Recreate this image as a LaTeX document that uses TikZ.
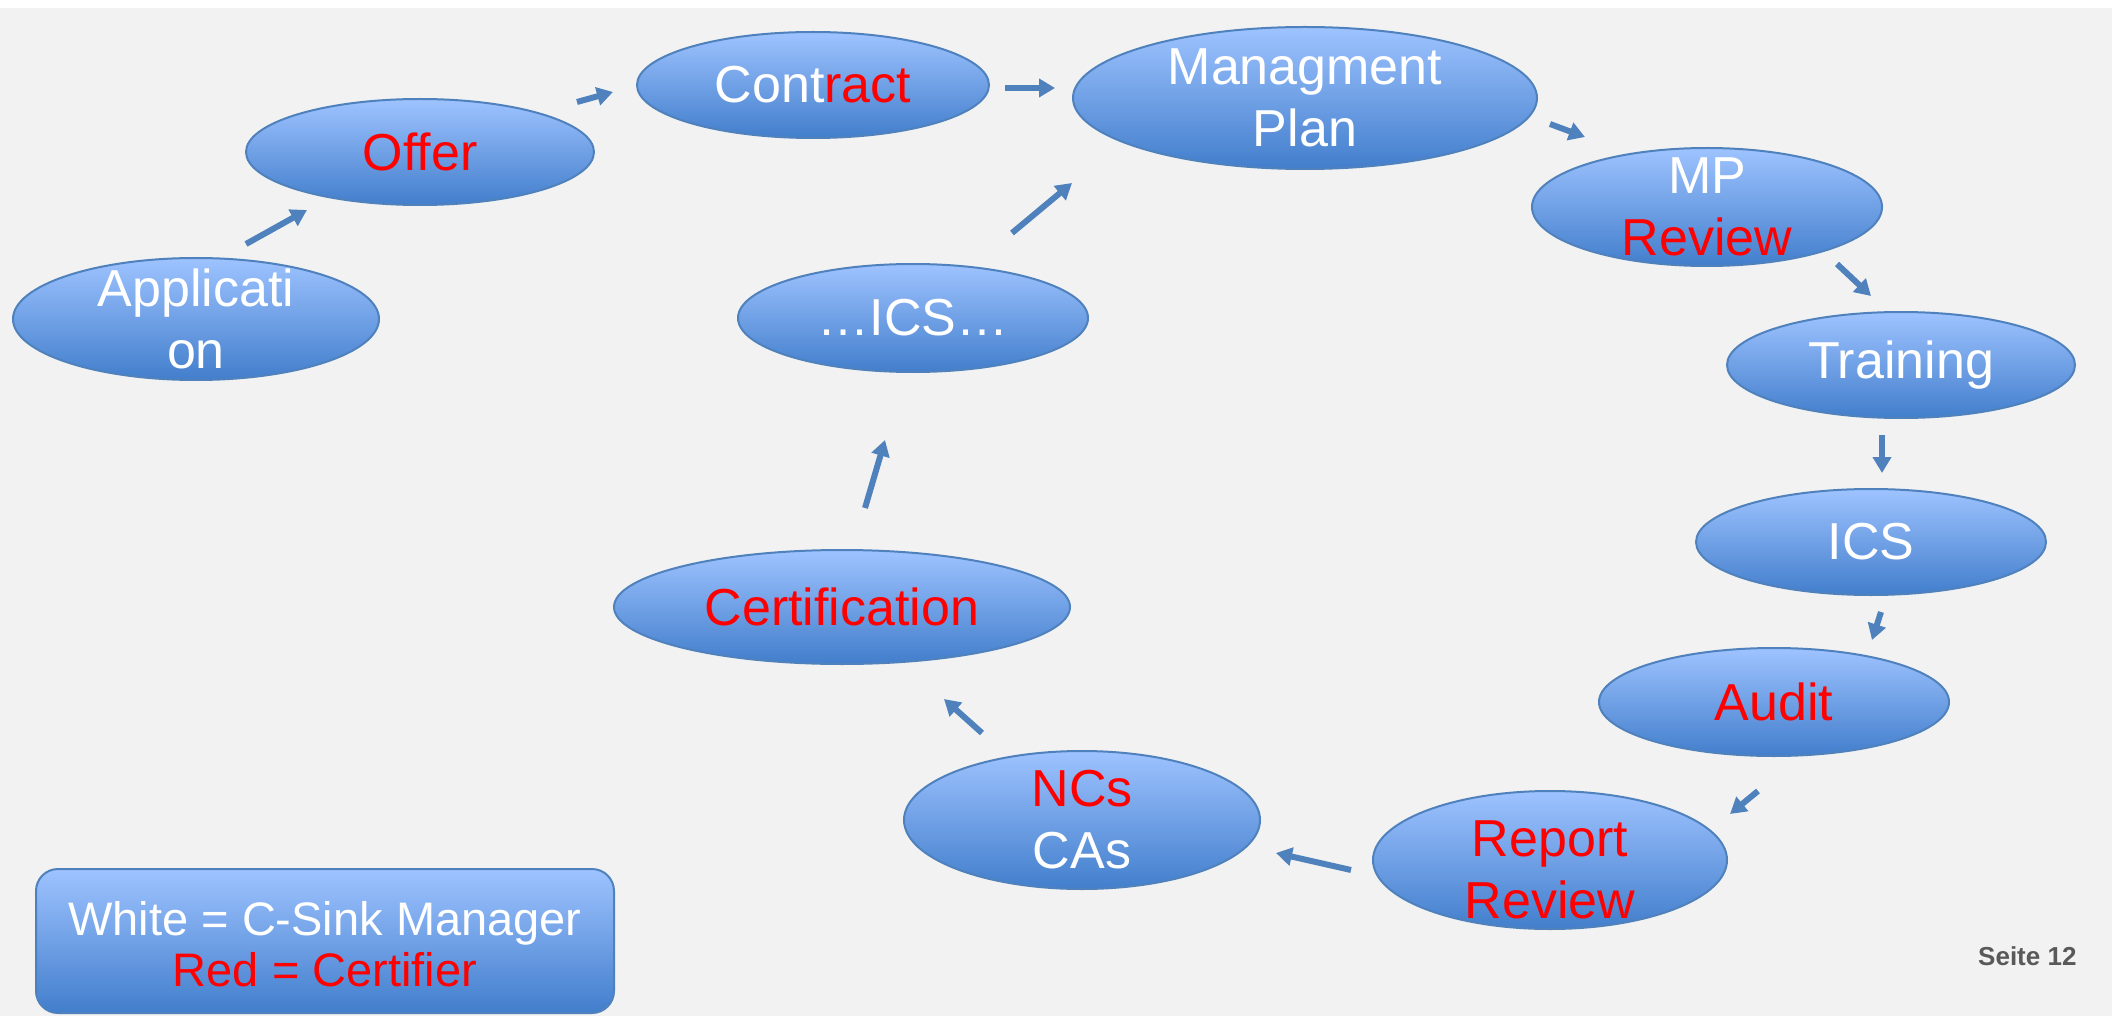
\documentclass[tikz,border=0pt]{standalone}
\usepackage{fontspec}
\setmainfont{Liberation Sans}
\usetikzlibrary{shapes.geometric,arrows.meta}

\definecolor{hgrau}{HTML}{F2F2F2}
\definecolor{blauoben}{RGB}{158,195,255}
\definecolor{blauunten}{RGB}{66,126,204}
\definecolor{blaurand}{RGB}{79,129,189}
\definecolor{seitegrau}{RGB}{89,89,89}

\tikzset{
  blase/.style={ellipse, draw=blaurand, line width=2pt, top color=blauoben,
    bottom color=blauunten, inner sep=0pt},
  pfeil/.style={draw=blaurand, line width=6pt, -{Triangle[width=18pt,length=16pt]}},
  weiss/.style={text=white, font=\fontsize{52}{62}\selectfont, align=center},
  rottext/.style={weiss, text=red}
}

\begin{document}
\begin{tikzpicture}[x=1pt,y=-1pt]
  \useasboundingbox (0,0) rectangle (2112,1016);

  % Hintergrund
  \fill[white] (0,0) rectangle (2112,1016);
  \fill[hgrau] (0,8) rectangle (2112,1016);

  % Ellipsen
  \node[blase, minimum width=366pt, minimum height=122pt] (app) at (196,319) {};
  \node[blase, minimum width=348pt, minimum height=106pt] (offer) at (420,152) {};
  \node[blase, minimum width=352pt, minimum height=106pt] (contract) at (813,85) {};
  \node[blase, minimum width=464pt, minimum height=142pt] (plan) at (1305,98) {};
  \node[blase, minimum width=350pt, minimum height=118pt] (mprev) at (1707,207) {};
  \node[blase, minimum width=348pt, minimum height=106pt] (training) at (1901,365) {};
  \node[blase, minimum width=350pt, minimum height=106pt] (ics) at (1871,542) {};
  \node[blase, minimum width=350pt, minimum height=108pt] (audit) at (1774,702) {};
  \node[blase, minimum width=354pt, minimum height=138pt] (report) at (1550,860) {};
  \node[blase, minimum width=356pt, minimum height=138pt] (ncs) at (1082,820) {};
  \node[blase, minimum width=456pt, minimum height=114pt] (cert) at (842,607) {};
  \node[blase, minimum width=350pt, minimum height=108pt] (icsloop) at (913,318) {};

  % Beschriftungen
  \node[weiss] (app-t) at (app) {Applicati\\on};
  \node[rottext] (offer-t) at (offer) {Offer};
  \node[weiss] (contract-t) at (contract) {Cont\textcolor{red}{ract}};
  \node[weiss] (plan-t) at (plan) {Managment\\Plan};
  \node[weiss] (mprev-t) at (mprev) {MP\\\textcolor{red}{Review}};
  \node[weiss] (training-t) at (training) {Training};
  \node[weiss] (ics-t) at (ics) {ICS};
  \node[rottext] (audit-t) at (audit) {Audit};
  \node[rottext] (report-t) at (1550,870) {Report\\Review};
  \node[weiss] (ncs-t) at (ncs) {\textcolor{red}{NCs}\\CAs};
  \node[rottext] (cert-t) at (cert) {Certification};
  \node[weiss] (icsloop-t) at (icsloop) {\dots ICS\dots};

  % Pfeile
  \coordinate (p1a) at (246,244);  \coordinate (p1b) at (307,210);
  \coordinate (p2a) at (577,102);  \coordinate (p2b) at (613,92);
  \coordinate (p3a) at (1005,88);  \coordinate (p3b) at (1055,88);
  \coordinate (p4a) at (1550,124); \coordinate (p4b) at (1585,137);
  \coordinate (p5a) at (1837,264); \coordinate (p5b) at (1871,296);
  \coordinate (p6a) at (1882,435); \coordinate (p6b) at (1882,473);
  \coordinate (p7a) at (1881,612); \coordinate (p7b) at (1872,640);
  \coordinate (p8a) at (1758,791); \coordinate (p8b) at (1730,814);
  \coordinate (p9a) at (1351,870); \coordinate (p9b) at (1276,853);
  \coordinate (p10a) at (982,733); \coordinate (p10b) at (944,699);
  \coordinate (p11a) at (865,508); \coordinate (p11b) at (885,440);
  \coordinate (p12a) at (1012,233); \coordinate (p12b) at (1072,183);
  \draw[pfeil] (p1a) -- (p1b);
  \draw[pfeil] (p2a) -- (p2b);
  \draw[pfeil] (p3a) -- (p3b);
  \draw[pfeil] (p4a) -- (p4b);
  \draw[pfeil] (p5a) -- (p5b);
  \draw[pfeil] (p6a) -- (p6b);
  \draw[pfeil] (p7a) -- (p7b);
  \draw[pfeil] (p8a) -- (p8b);
  \draw[pfeil] (p9a) -- (p9b);
  \draw[pfeil] (p10a) -- (p10b);
  \draw[pfeil] (p11a) -- (p11b);
  \draw[pfeil] (p12a) -- (p12b);

  % Legende
  \node[draw=blaurand, line width=2pt, rounded corners=22pt, top color=blauoben,
    bottom color=blauunten, minimum width=578pt, minimum height=144pt] (legende) at (325,941) {};
  \node[weiss, font=\fontsize{47}{51}\selectfont] (legende-t) at (325,944)
    {White = C-Sink Manager\\\textcolor{red}{Red = Certifier}};

  % Seitenzahl
  \node[font=\bfseries\fontsize{26}{30}\selectfont, text=seitegrau, anchor=east] (seite)
    at (2080,956) {Seite 12};
\end{tikzpicture}
\end{document}
